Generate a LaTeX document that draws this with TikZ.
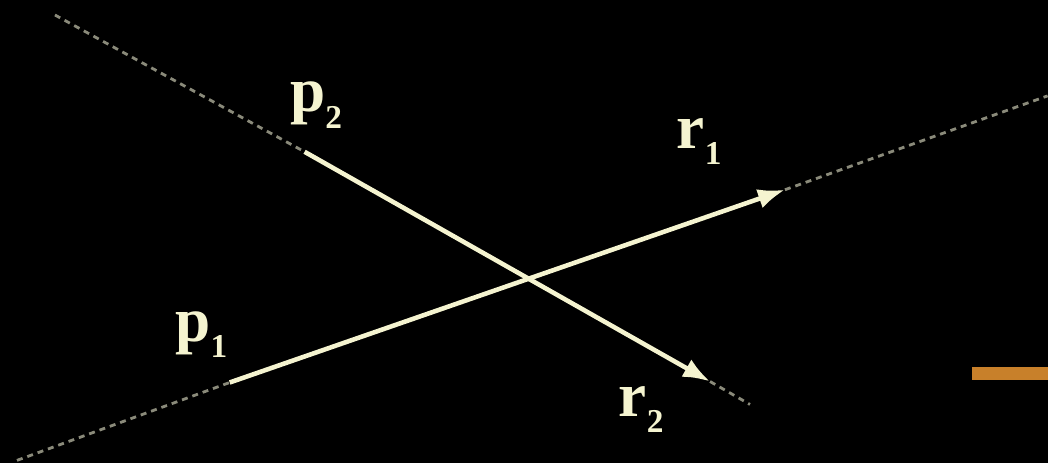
\documentclass[tikz,border=0pt]{standalone}
\usepackage{fontspec}
\setmainfont{Liberation Serif}
\usetikzlibrary{arrows.meta}

\definecolor{raycol}{RGB}{245,244,208}
\definecolor{dashcol}{RGB}{138,138,122}
\definecolor{barcol}{RGB}{200,128,42}
\newcommand{\ptlabel}[2]{\fontsize{18}{20}\selectfont\bfseries #1\raisebox{-4.6pt}{\fontsize{9.5}{10}\selectfont #2}}

\begin{document}
\begin{tikzpicture}[x=0.1mm, y=-0.1mm,
    every node/.style = {text=raycol, inner sep=0pt, anchor=base west},
    rayln/.style      = {draw=raycol, line width=1.3pt,
                         -{Latex[length=2.7mm,width=2.0mm]}},
    extln/.style      = {draw=dashcol, line width=0.8pt,
                         dash pattern=on 0.6mm off 0.5mm}]

    % Background
    \fill[black] (0,0) rectangle (1049,464);

    % Points on the two lines
    \coordinate (a1) at (  17,461);
    \coordinate (s1) at ( 230,383);
    \coordinate (t1) at ( 786,190);
    \coordinate (b1) at (1049, 96);
    \coordinate (a2) at (  55, 15);
    \coordinate (s2) at ( 305,152);
    \coordinate (t2) at ( 711,382);
    \coordinate (b2) at ( 751,405);

    % Labels
    \node (p1) at (175,342) {\ptlabel{p}{1}};
    \node (p2) at (290,112) {\ptlabel{p}{2}};
    \node (r1) at (677,149) {\ptlabel{r}{1}};
    \node (r2) at (619,417) {\ptlabel{r}{2}};

    % Extensions
    \draw[extln] (a1) -- (s1);
    \draw[extln] (t1) -- (b1);
    \draw[extln] (a2) -- (s2);
    \draw[extln] (t2) -- (b2);

    % Rays
    \draw[rayln] (s1) -- (t1);
    \draw[rayln] (s2) -- (t2);

    % Bar at the right edge
    \fill[barcol] (973,367) rectangle (1049,381);
\end{tikzpicture}
\end{document}
